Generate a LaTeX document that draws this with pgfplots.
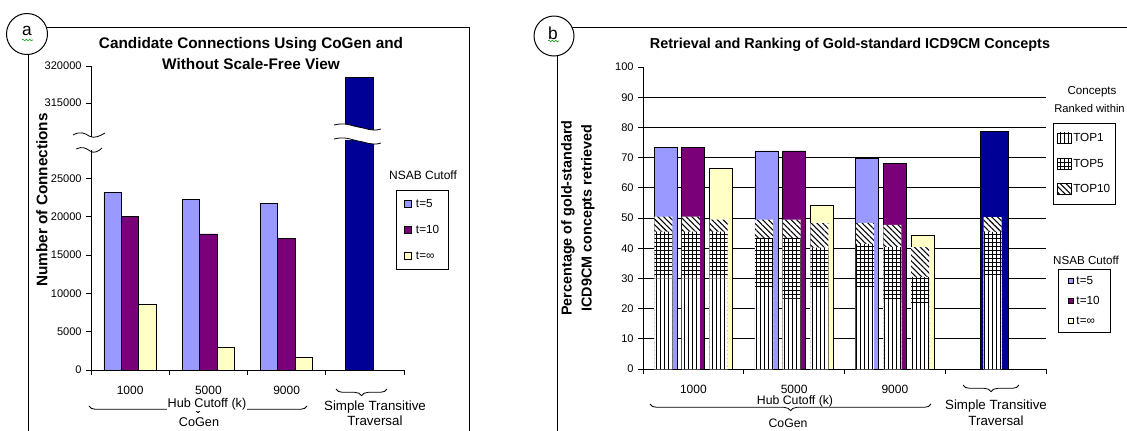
\documentclass[border=0pt]{standalone}
\usepackage{pgfplots}
\pgfplotsset{compat=1.18}
\usepackage{fontspec}
\setmainfont{Liberation Sans}
\usetikzlibrary{patterns,patterns.meta,decorations.pathreplacing,decorations.pathmorphing}
\definecolor{tfive}{HTML}{9999FF}
\definecolor{tten}{HTML}{7A007A}
\definecolor{tinf}{HTML}{FFFFC6}
\definecolor{navyb}{HTML}{000096}
\tikzset{
  pA/.style={pattern={Lines[angle=90,distance=3pt,line width=0.55pt]}},
  pB/.style={pattern={Hatch[angle=0,distance=3pt,line width=0.55pt]}},
  pC/.style={pattern={Lines[angle=-45,distance=3pt,line width=0.8pt]}},
}
\pgfplotsset{
  base/.style={
    scale only axis, anchor=south west,
    axis x line=bottom, axis y line=left,
    axis line style={line width=0.6pt, -},
    tick style={line width=0.6pt, black},
    tick align=outside,
    major tick length=3.5pt,
    ticklabel style={font=\fontsize{8.3}{9}\selectfont},
    /pgf/number format/fixed,
    /pgf/number format/assume math mode=true,
    /pgf/number format/1000 sep={},
    scaled y ticks=false,
    enlargelimits=false,
    xmin=-0.5, xmax=3.5,
  },
  xcat/.style={
    xtick={-0.5,0.5,...,3.5}, xticklabels={},
    extra x ticks={0,1,2}, extra x tick labels={1000,5000,9000},
    extra x tick style={major tick length=0pt,
      tick label style={yshift=-8.5pt, font=\fontsize{9}{10}\selectfont}},
  },
}
\begin{document}
\begin{tikzpicture}
\path[use as bounding box] (0pt,0pt) rectangle (845.25pt,-322.5pt);

% ---------------- Panel a : lower part ----------------
\begin{axis}[base, xcat,
  at={(68.25pt,-277.5pt)}, width=234.75pt, height=172.5pt,
  ymin=0, ymax=30000,
  ytick={0,5000,...,25000},
  ybar, bar width=13.1pt,
  legend style={at={(0.9744,0.7826)}, anchor=north west, draw=black, line width=0.6pt,
    fill=white, font=\fontsize{8.8}{10}\selectfont, inner xsep=6pt, inner ysep=6pt,
    row sep=11pt, nodes={inner sep=1pt, text height=6pt, text depth=0.5pt},
    /tikz/every odd column/.append style={column sep=2pt}},
  legend cell align=left,
  legend image code/.code={\draw[#1, draw=black, line width=0.5pt] (0pt,-2.6pt) rectangle (5.2pt,2.6pt);},
]
\addplot[fill=tfive, draw=black, line width=0.6pt, bar shift=-13.1pt] coordinates {(0,23200) (1,22200) (2,21700)};
\addplot[fill=tten, draw=black, line width=0.6pt, bar shift=0pt] coordinates {(0,20000) (1,17750) (2,17200)};
\addplot[fill=tinf, draw=black, line width=0.6pt, bar shift=13.1pt] coordinates {(0,8600) (1,2900) (2,1650)};
\addplot[fill=navyb, draw=black, line width=0.6pt, bar width=21pt, bar shift=-3.75pt, forget plot] coordinates {(3,318500)};
\legend{t=5,t=10,t=∞}
\end{axis}

% ---------------- Panel a : upper part ----------------
\begin{axis}[base,
  at={(68.25pt,-102.75pt)}, width=234.75pt, height=53.25pt,
  ymin=310400, ymax=320000,
  axis x line=none,
  ytick={315000,320000},
  ybar, bar width=21pt,
]
\addplot[fill=navyb, draw=black, line width=0.6pt, bar shift=-3.75pt] coordinates {(3,318500)};
\end{axis}

% ---------------- Panel b : coloured bars ----------------
\begin{axis}[base, xcat,
  at={(482.25pt,-276.75pt)}, width=302.25pt, height=226.5pt,
  ymin=0, ymax=100,
  ytick={0,10,...,100},
  extra y ticks={10,20,...,90}, extra y tick labels={},
  extra y tick style={grid=major, major tick length=0pt, major grid style={black, line width=0.6pt}},
  ybar, bar width=17.25pt,
  legend style={at={(1.03,0.331)}, anchor=north west, draw=black, line width=0.6pt,
    fill=white, font=\fontsize{8.8}{10}\selectfont, inner xsep=7pt, inner ysep=4.5pt,
    row sep=6.5pt, nodes={inner sep=1pt, text height=6pt, text depth=0.5pt},
    /tikz/every odd column/.append style={column sep=1pt}},
  legend cell align=left,
  legend image code/.code={\draw[#1, draw=black, line width=0.5pt] (0pt,-2pt) rectangle (4pt,2pt);},
]
\addplot[fill=tfive, draw=black, line width=0.6pt, bar shift=-20.8pt] coordinates {(0,73.5) (1,72.2) (2,69.8)};
\addplot[fill=tten, draw=black, line width=0.6pt, bar shift=0pt] coordinates {(0,73.5) (1,72.2) (2,68.2)};
\addplot[fill=tinf, draw=black, line width=0.6pt, bar shift=20.8pt] coordinates {(0,66.5) (1,54.3) (2,44.4)};
\addplot[fill=navyb, draw=black, line width=0.6pt, bar width=21pt, bar shift=-1.1pt, forget plot] coordinates {(3,78.8)};
\legend{t=5,t=10,t=∞}
\end{axis}

% ---------------- Panel b : ranking patterns ----------------
\begin{axis}[scale only axis, anchor=south west,
  at={(482.25pt,-276.75pt)}, width=302.25pt, height=226.5pt,
  xmin=-0.5, xmax=3.5, ymin=0, ymax=100, hide axis,
  ybar, bar width=13.5pt,
  reverse legend,
  legend style={at={(1.017,0.815)}, anchor=north west, draw=black, line width=0.6pt,
    fill=white, font=\fontsize{8.8}{10}\selectfont, inner xsep=3pt, inner ysep=7pt,
    row sep=10.5pt, nodes={inner sep=1pt, text height=6pt, text depth=0.5pt},
    /tikz/every odd column/.append style={column sep=0pt}},
  legend cell align=left,
  legend image code/.code={\draw[#1, draw=black, line width=0.5pt] (0pt,-4pt) rectangle (10.5pt,4pt);},
]
\addplot[fill=white, draw=none, bar shift=0pt, postaction={pC}] coordinates {
 (-0.299,50.5) (-0.025,50.5) (0.250,49.5) (0.701,49.5) (0.975,49.5) (1.250,48.3)
 (1.701,48.3) (1.975,47.7) (2.250,40.4) (2.970,50.3)};
\addplot[fill=white, draw=none, bar shift=0pt, postaction={pB}] coordinates {
 (-0.299,45.5) (-0.025,45.5) (0.250,45.5) (0.701,43.4) (0.975,43.4) (1.250,40.2)
 (1.701,41.4) (1.975,40.4) (2.250,30.5) (2.970,45.4)};
\addplot[fill=white, draw=none, bar shift=0pt, postaction={pA}] coordinates {
 (-0.299,30) (-0.025,30) (0.250,30) (0.701,26.8) (0.975,23.2) (1.250,26.8)
 (1.701,26.8) (1.975,22.2) (2.250,21.5) (2.970,30.5)};
\legend{TOP10,TOP5,TOP1}
\end{axis}

% ---------------- decorations in pixel units ----------------
\begin{scope}[x=0.75pt,y=-0.75pt]
% frames
\draw[line width=0.75pt] (46.3,27) -- (469,27) -- (469,440);
\draw[line width=0.75pt] (28,54.5) -- (28,440);
\draw[line width=0.75pt] (27,34) circle (20.5);
\node[font=\fontsize{13}{13}\selectfont] at (27,31) {a};
\draw[green!60!black, line width=0.4pt, decorate, decoration={snake, amplitude=0.6pt, segment length=2.5pt}] (22,40) -- (33,40);
\draw[line width=0.75pt] (571.9,27) -- (1130,27);
\draw[line width=0.75pt] (557,55.8) -- (557,440);
\draw[line width=0.75pt] (554,36) circle (20);
\node[font=\fontsize{13}{13}\selectfont] at (553,33) {b};
\draw[green!60!black, line width=0.4pt, decorate, decoration={snake, amplitude=0.6pt, segment length=2.5pt}] (548,41) -- (559,41);

% axis break, panel a
\fill[white] (85,137.5) rectangle (96,149.5);
\draw[line width=0.6pt] (73,135) .. controls (80,131) and (85,133) .. (89,136) .. controls (94,139) and (100,136) .. (105,133);
\draw[line width=0.6pt] (76,149) .. controls (82,146) and (86,148) .. (90,151) .. controls (94,154) and (99,151) .. (102,148);
\fill[white] (334,125) .. controls (345,122) and (352,126) .. (358,127) .. controls (366,128) and (372,132) .. (381,129)
  -- (381,143) .. controls (372,146) and (366,142) .. (358,141) .. controls (352,140) and (345,136) .. (334,139) -- cycle;
\draw[line width=0.6pt] (334,125) .. controls (345,122) and (352,126) .. (358,127) .. controls (366,128) and (372,132) .. (381,129);
\draw[line width=0.6pt] (334,139) .. controls (345,136) and (352,140) .. (358,141) .. controls (366,142) and (372,146) .. (381,143);

% titles and labels, panel a
\node[align=center, font=\bfseries\fontsize{11.5}{15.75}\selectfont] at (251,53.5) {Candidate Connections Using CoGen and\\Without Scale-Free View};
\node[rotate=90, font=\bfseries\fontsize{11.5}{13}\selectfont] at (42,200) {Number of Connections};
\node[font=\fontsize{9}{10}\selectfont] at (423,175) {NSAB Cutoff};
\draw[line width=0.6pt, decorate, decoration={brace, mirror, amplitude=5pt}] (89,406) -- (307,406);
\node[font=\fontsize{9.5}{10}\selectfont, fill=white, inner sep=0.5pt] at (207,404) {Hub Cutoff (k)};
\node[font=\fontsize{9.5}{10}\selectfont] at (199,422) {CoGen};
\draw[line width=0.6pt, decorate, decoration={brace, mirror, amplitude=5pt}] (336,389) -- (387,389);
\node[font=\fontsize{10}{11}\selectfont] at (375,407) {Simple Transitive};
\node[font=\fontsize{10}{11}\selectfont] at (375,421) {Traversal};

% titles and labels, panel b
\node[font=\bfseries\fontsize{10.8}{12}\selectfont] at (850,45) {Retrieval and Ranking of Gold-standard ICD9CM Concepts};
\node[rotate=90, align=center, font=\bfseries\fontsize{10.8}{15}\selectfont] at (578,218) {Percentage of gold-standard\\ICD9CM concepts retrieved};
\node[font=\fontsize{8.7}{10}\selectfont] at (1092,92) {Concepts};
\node[font=\fontsize{8.4}{10}\selectfont, anchor=east, inner sep=0pt] at (1125,108) {Ranked within};
\node[font=\fontsize{8.7}{10}\selectfont] at (1086,260) {NSAB Cutoff};
\draw[line width=0.6pt, decorate, decoration={brace, mirror, amplitude=5pt}] (650,404) -- (931,404);
\node[font=\fontsize{9.2}{10}\selectfont] at (795,401) {Hub Cutoff (k)};
\node[font=\fontsize{9.2}{10}\selectfont] at (788,423) {CoGen};
\draw[line width=0.6pt, decorate, decoration={brace, mirror, amplitude=5pt}] (963,385) -- (1019,385);
\node[font=\fontsize{10}{11}\selectfont] at (996,406) {Simple Transitive};
\node[font=\fontsize{10}{11}\selectfont] at (996,421) {Traversal};
\end{scope}
\end{tikzpicture}
\end{document}
